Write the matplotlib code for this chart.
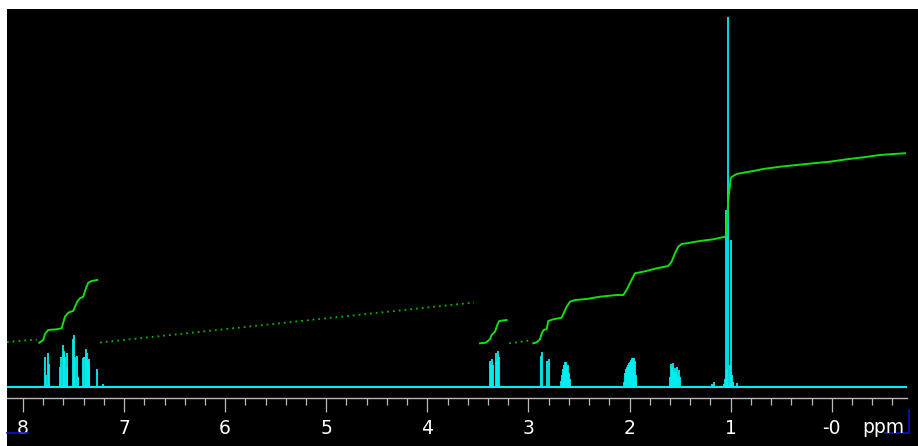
import numpy as np
import matplotlib
matplotlib.use('Agg')
from matplotlib import pyplot as plt
from matplotlib.lines import Line2D
from matplotlib.ticker import MultipleLocator

# 1H spectrum lines: shift (ppm) and height (arbitrary units)
aromatic_ppm = [7.782, 7.768, 7.756, 7.743, 7.634, 7.620, 7.607, 7.598, 7.591, 7.580, 7.568, 7.560,
                7.502, 7.494, 7.484, 7.463, 7.452, 7.404, 7.392, 7.380, 7.372, 7.364, 7.357, 7.350,
                7.344, 7.271, 7.209]
aromatic_int = [30, 12, 34, 23, 20, 30, 42, 36, 34, 30, 34, 20,
                48, 52, 30, 31, 10, 29, 30, 38, 30, 34, 27, 28,
                20, 18, 3]

ch2n_ppm = [3.381, 3.373, 3.358, 3.346, 3.322, 3.312, 3.297, 3.287]
ch2n_int = [26, 22, 28, 22, 34, 26, 36, 30]

ch2_28_ppm = [2.878, 2.866, 2.813, 2.800]
ch2_28_int = [31, 35, 26, 28]

ch_26_ppm = [2.678, 2.668, 2.658, 2.648, 2.638, 2.628, 2.618, 2.608, 2.598, 2.588]
ch_26_int = [6, 12, 18, 22, 25, 25, 20, 22, 14, 8]

ch2_20_ppm = [2.055, 2.045, 2.036, 2.026, 2.016, 2.006, 1.996, 1.986, 1.976, 1.966,
              1.956, 1.948, 1.940, 1.932]
ch2_20_int = [5, 14, 18, 20, 22, 24, 25, 27, 29, 29, 29, 26, 12, 5]

ch2_155_ppm = [1.598, 1.590, 1.580, 1.574, 1.562, 1.551, 1.542, 1.534, 1.524, 1.514, 1.501]
ch2_155_int = [10, 23, 20, 24, 15, 19, 14, 20, 12, 17, 10]

ch3_ppm = [1.188, 1.162, 1.065, 1.056, 1.047, 1.040, 1.024, 1.010, 0.997, 0.988, 0.980, 0.938]
ch3_int = [3, 5, 3, 8, 177, 18, 370, 22, 147, 12, 5, 4]

# integral trace, solid over integrated regions, dotted in between
int1_ppm = [7.839, 7.799, 7.782, 7.750, 7.667, 7.617, 7.585, 7.552, 7.502, 7.463, 7.436,
            7.404, 7.377, 7.354, 7.320, 7.265]
int1_val = [44.3, 47, 53, 57, 57.7, 58.7, 70.3, 74.3, 76.3, 85.3, 88.7,
            90.3, 98.7, 104.3, 106, 107]

int2_ppm = [3.479, 3.423, 3.381, 3.364, 3.331, 3.309, 3.289, 3.216]
int2_val = [43.7, 44.3, 47.7, 52, 55.3, 62, 66, 67]

int3_ppm = [2.953, 2.919, 2.886, 2.869, 2.847, 2.820, 2.804, 2.755, 2.672, 2.622, 2.589,
            2.540, 2.424, 2.293, 2.128, 2.062, 2.029, 1.989, 1.947, 1.864, 1.732, 1.617,
            1.584, 1.551, 1.518, 1.485, 1.435, 1.304, 1.172, 1.056, 1.043, 1.036, 1.024,
            1.014, 1.000, 0.987, 0.941, 0.875, 0.776, 0.678, 0.512, 0.347, 0.183, 0.018,
            -0.147, -0.312, -0.477, -0.608, -0.724]
int3_val = [43.7, 44.7, 47.7, 53.7, 57.3, 57.7, 66, 67.7, 69.3, 80.3, 85.3,
            87, 88, 90.3, 92, 92, 97, 105.3, 113.7, 115.3, 118.7, 121,
            125.3, 133.7, 140.3, 143, 143.7, 146, 147.7, 150.3, 152, 165, 187,
            195.3, 208.7, 210.3, 213, 214.3, 216, 218, 220.3, 222, 223.7, 225.3,
            227.7, 229.7, 232, 233, 233.7]

gap1_ppm = [8.158, 7.862]
gap1_val = [45, 47.5]
gap2_ppm = [7.238, 3.539]
gap2_val = [44.5, 84.5]
gap3_ppm = [3.190, 3.002]
gap3_val = [43.7, 46.3]

tick_ppm = [8, 7, 6, 5, 4, 3, 2, 1, 0]
tick_lbl = ['8', '7', '6', '5', '4', '3', '2', '1', '-0']

W, H = 918, 446
fig = plt.figure(figsize=(W / 100, H / 100), dpi=100, facecolor='white')

bg = fig.add_axes([7 / W, 0, 911 / W, 437 / H])
bg.set_facecolor('black')
bg.set_xticks([])
bg.set_yticks([])
for s in bg.spines.values():
    s.set_visible(False)

ax = fig.add_axes([7 / W, 48 / H, 900 / W, 389 / H])
ax.patch.set_alpha(0)
ax.set_xlim(8.158, -0.744)
ax.set_ylim(-11, 378)
for k in ['top', 'left', 'right']:
    ax.spines[k].set_visible(False)
ax.spines['bottom'].set_color('#b8b8b8')
ax.spines['bottom'].set_linewidth(1.0)
ax.set_yticks([])
ax.set_xticks(tick_ppm)
ax.set_xticklabels(tick_lbl)
ax.xaxis.set_minor_locator(MultipleLocator(0.2))
ax.tick_params(axis='x', which='major', length=9.8, width=0.9, color='#b8b8b8',
               labelcolor='white', labelsize=13.5, pad=5)
ax.tick_params(axis='x', which='minor', length=5, width=0.9, color='#b8b8b8')

cyan = '#00f0f0'
ax.axhline(0, color=cyan, lw=1.5, zorder=3)
groups = [(aromatic_ppm, aromatic_int), (ch2n_ppm, ch2n_int), (ch2_28_ppm, ch2_28_int),
          (ch_26_ppm, ch_26_int), (ch2_20_ppm, ch2_20_int), (ch2_155_ppm, ch2_155_int),
          (ch3_ppm, ch3_int)]
for p, v in groups:
    ax.vlines(p, 0, v, color=cyan, lw=1.3, zorder=3)

green = '#10e010'
for p, v in [(int1_ppm, int1_val), (int2_ppm, int2_val), (int3_ppm, int3_val)]:
    ax.plot(p, v, color=green, lw=1.4, zorder=4)
for p, v in [(gap1_ppm, gap1_val), (gap2_ppm, gap2_val), (gap3_ppm, gap3_val)]:
    ax.plot(p, v, color='#00b800', lw=1.3, ls=(0, (1, 2.2)), zorder=4)

fig.text(883 / W, 1 - 433 / H, 'ppm', color='white', fontsize=13.5,
         ha='center', va='baseline')

# cursor marks in the corner
blue = '#1010d0'
def px_line(xs, ys):
    fig.add_artist(Line2D([x / W for x in xs], [1 - y / H for y in ys],
                          color=blue, lw=1.2, transform=fig.transFigure))
px_line([7, 28], [433, 433])
px_line([885, 909, 909], [433, 433, 410])

fig.savefig('out.png', dpi=100, facecolor='white')
